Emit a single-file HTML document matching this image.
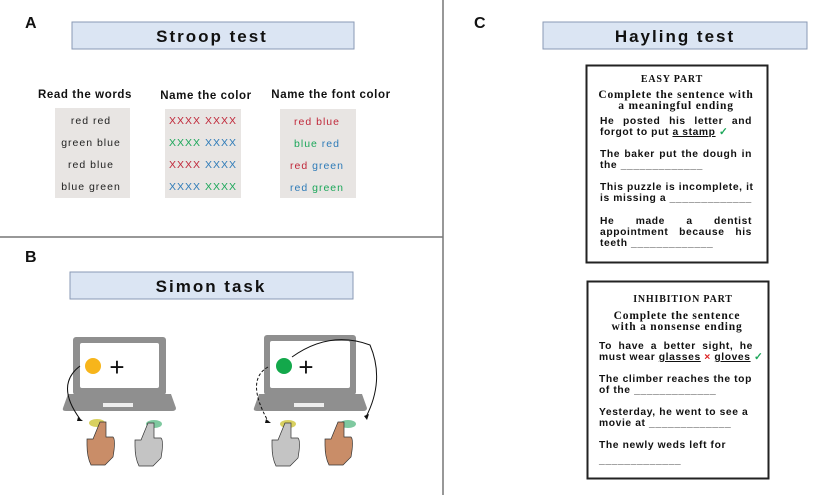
<!DOCTYPE html>
<html><head><meta charset="utf-8"><style>
body{margin:0;background:#fff;position:relative;width:829px;height:495px;overflow:hidden}
svg{display:block;position:absolute;left:0;top:0}
.h{font-family:"Liberation Sans",sans-serif;font-weight:bold}
.s{font-family:"Liberation Serif",serif;font-weight:bold}
.t{position:absolute;width:152px;font:bold 10.3px/11px "Liberation Sans",sans-serif;letter-spacing:0.6px;color:#111;white-space:nowrap}
.t div{height:11px}
.j{text-align:justify;text-align-last:justify}
.g{color:#1ca75a}.r{color:#d22}
u{text-decoration:underline}
</style></head><body>
<svg width="829" height="495" viewBox="0 0 829 495" xmlns="http://www.w3.org/2000/svg">
<rect width="829" height="495" fill="#fff"/>
<line x1="443" y1="0" x2="443" y2="495" stroke="#777" stroke-width="1.5"/>
<line x1="0" y1="237" x2="443" y2="237" stroke="#777" stroke-width="1.5"/>
<g class="h" font-size="16" fill="#111">
<text x="25" y="28">A</text><text x="25" y="262">B</text><text x="474" y="28">C</text></g>
<rect x="72" y="22" width="282" height="27" fill="#dbe5f3" stroke="#8a99b5"/>
<text x="212" y="42" class="h" font-size="17" text-anchor="middle" letter-spacing="2" fill="#111">Stroop test</text>
<rect x="70" y="272" width="283" height="27" fill="#dbe5f3" stroke="#8a99b5"/>
<text x="211" y="292" class="h" font-size="17" text-anchor="middle" letter-spacing="2" fill="#111">Simon task</text>
<rect x="543" y="22" width="264" height="27" fill="#dbe5f3" stroke="#8a99b5"/>
<text x="675" y="42" class="h" font-size="17" text-anchor="middle" letter-spacing="2" fill="#111">Hayling test</text>
<g class="h" font-size="11.5" text-anchor="middle" fill="#111" letter-spacing="0.6">
<text x="85" y="98">Read the words</text><text x="206" y="99">Name the color</text><text x="331" y="98">Name the font color</text></g>
<rect x="55" y="108" width="75" height="90" fill="#e8e5e3"/>
<rect x="165" y="109" width="76" height="89" fill="#e8e5e3"/>
<rect x="280" y="109" width="76" height="89" fill="#e8e5e3"/>
<g font-family="Liberation Sans,sans-serif" font-size="10.5" text-anchor="middle" letter-spacing="1">
<g fill="#222"><text x="91" y="124">red red</text><text x="91" y="146">green blue</text><text x="91" y="168">red blue</text><text x="91" y="190">blue green</text></g>
<text x="203" y="124"><tspan fill="#c0283a">XXXX XXXX</tspan></text>
<text x="203" y="146"><tspan fill="#1ca75a">XXXX </tspan><tspan fill="#2e7bb8">XXXX</tspan></text>
<text x="203" y="168"><tspan fill="#c0283a">XXXX </tspan><tspan fill="#2e7bb8">XXXX</tspan></text>
<text x="203" y="190"><tspan fill="#2e7bb8">XXXX </tspan><tspan fill="#1ca75a">XXXX</tspan></text>
<text x="317" y="125"><tspan fill="#c0283a">red blue</tspan></text>
<text x="317" y="147"><tspan fill="#1ca75a">blue </tspan><tspan fill="#2e7bb8">red</tspan></text>
<text x="317" y="169"><tspan fill="#c0283a">red </tspan><tspan fill="#2e7bb8">green</tspan></text>
<text x="317" y="191"><tspan fill="#2e7bb8">red </tspan><tspan fill="#1ca75a">green</tspan></text>
</g>
<g fill="#8f8f8f">
<rect x="73" y="337" width="93" height="58" rx="3"/><path d="M68 394 H171 L176 408 Q176 411 172 411 H66 Q62 411 63 408Z"/>
<rect x="264" y="335" width="92" height="60" rx="3"/><path d="M259 394 H362 L367 408 Q367 411 363 411 H257 Q253 411 254 408Z"/>
</g>
<rect x="80" y="343" width="79" height="45" fill="#fff" rx="2"/>
<rect x="270" y="341" width="80" height="47" fill="#fff" rx="2"/>
<rect x="103" y="403" width="30" height="4" fill="#eee"/><rect x="294" y="403" width="30" height="4" fill="#eee"/>
<circle cx="93" cy="366" r="8" fill="#f7b51b"/>
<text x="117" y="376" font-family="Liberation Sans,sans-serif" font-size="26" text-anchor="middle" fill="#111">+</text>
<circle cx="284" cy="366" r="8" fill="#13a84b"/>
<text x="306" y="376" font-family="Liberation Sans,sans-serif" font-size="26" text-anchor="middle" fill="#111">+</text>
<g fill="none" stroke="#111" stroke-width="1">
<path d="M80 366 Q55 385 80 419"/>
<path d="M268 367 Q245 380 268 421" stroke-dasharray="3,2"/>
<path d="M292 357 Q330 330 370 345 Q385 380 366 417"/>
</g>
<path d="M78 417 l5 4 -6 0z M266 419 l5 4 -6 0z M364 416 l5 -2 -2 6z" fill="#111"/>
<ellipse cx="97" cy="423" rx="8" ry="4" fill="#d8d060"/><ellipse cx="154" cy="424" rx="8" ry="4" fill="#7fc9a0"/>
<ellipse cx="288" cy="424" rx="8" ry="4" fill="#d8d060"/><ellipse cx="348" cy="424" rx="8" ry="4" fill="#7fc9a0"/>
<g stroke="#333" stroke-width="0.7">
<path d="M100 422 h6 v15 h7 q3 3 0 20 l-8 8 h-14 q-4-8-4-20 v-6 h6z" fill="#c98d68"/>
<path d="M148 423 h6 v15 h7 q3 3 0 20 l-8 8 h-14 q-4-8-4-20 v-6 h6z" fill="#c4c4c4"/>
<path d="M285 423 h6 v15 h7 q3 3 0 20 l-8 8 h-14 q-4-8-4-20 v-6 h6z" fill="#c4c4c4"/>
<path d="M338 422 h6 v15 h7 q3 3 0 20 l-8 8 h-14 q-4-8-4-20 v-6 h6z" fill="#c98d68"/>
</g>
<rect x="586.5" y="65.5" width="181" height="197" fill="#fff" stroke="#222" stroke-width="2"/>
<rect x="587.5" y="281.5" width="181" height="197" fill="#fff" stroke="#222" stroke-width="2"/>
<g class="s" text-anchor="middle" fill="#111" letter-spacing="0.8">
<text x="672" y="82" font-size="10">EASY PART</text>
<text x="676" y="98" font-size="11.5">Complete the sentence with</text>
<text x="676" y="109" font-size="11.5">a meaningful ending</text>
<text x="683" y="302" font-size="10">INHIBITION PART</text>
<text x="677" y="319" font-size="11.5">Complete the sentence</text>
<text x="677" y="330" font-size="11.5">with a nonsense ending</text>
</g>
</svg>
<div class="t" style="left:600px;top:116px">
<div class="j">He posted his letter and</div>
<div>forgot to put <u>a stamp</u> <span class="g">✓</span></div>
<div style="height:11px"></div>
<div class="j">The baker put the dough in</div>
<div>the _____________</div>
<div style="height:11px"></div>
<div class="j">This puzzle is incomplete, it</div>
<div>is missing a _____________</div>
<div style="height:12px"></div>
<div class="j">He made a dentist</div>
<div class="j">appointment because his</div>
<div>teeth _____________</div>
</div>
<div class="t" style="left:599px;top:341px;width:154px">
<div class="j">To have a better sight, he</div>
<div>must wear <u>glasses</u> <span class="r">×</span> <u>gloves</u> <span class="g">✓</span></div>
<div style="height:11px"></div>
<div>The climber reaches the top</div>
<div>of the _____________</div>
<div style="height:11px"></div>
<div>Yesterday, he went to see a</div>
<div>movie at _____________</div>
<div style="height:11px"></div>
<div>The newly weds left for</div>
<div style="margin-top:4px">_____________</div>
</div>
</body></html>
